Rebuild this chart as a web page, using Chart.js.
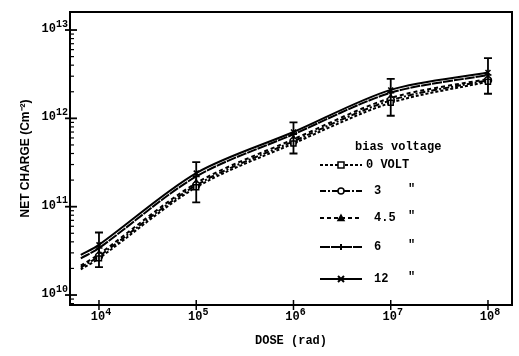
<!DOCTYPE html>
<html><head><meta charset="utf-8">
<script src="https://cdn.jsdelivr.net/npm/chart.js@4"></script>
<style>html,body{margin:0;padding:0;background:#fff}#wrap{width:519px;height:356px;position:relative}</style>
</head><body><div id="wrap"><canvas id="c" width="519" height="356"></canvas></div>
<script>
// ---- data ----
const doses   = [6.5e3, 1e4, 1e5, 1e6, 1e7, 1e8];
const v0      = [1.95e10, 2.6e10, 1.66e11, 5.2e11, 1.5e12, 2.6e12];
const v3      = [2.05e10, 2.75e10, 1.75e11, 5.5e11, 1.6e12, 2.7e12];
const v45     = [2.15e10, 2.9e10, 1.85e11, 5.8e11, 1.7e12, 2.8e12];
const v6      = [2.6e10, 3.4e10, 2.2e11, 6.6e11, 1.95e12, 3.1e12];
const v12     = [2.85e10, 3.7e10, 2.4e11, 7.0e11, 2.1e12, 3.3e12];
const errDoses = [1e4, 1e5, 1e6, 1e7, 1e8];
const errHigh  = [5.1e10, 3.2e11, 9.0e11, 2.8e12, 4.8e12];
const errLow   = [2.07e10, 1.12e11, 4.0e11, 1.07e12, 1.9e12];
const xTicks      = [1e4, 1e5, 1e6, 1e7, 1e8];
const xTickBase   = ['10', '10', '10', '10', '10'];
const xTickExp    = ['4', '5', '6', '7', '8'];
const yTicks      = [1e10, 1e11, 1e12, 1e13];
const yTickBase   = ['10', '10', '10', '10'];
const yTickExp    = ['10', '11', '12', '13'];
const seriesLabels = ['0 VOLT', '3', '4.5', '6', '12'];
const seriesValues = [v0, v3, v45, v6, v12];

// ---- styles ----
const styles = [
  {dash: [3, 2],        pt: 'rect',     fill: '#fff'},
  {dash: [6, 2, 2, 2],  pt: 'circle',   fill: '#fff'},
  {dash: [4, 3],        pt: 'triangle', fill: '#000'},
  {dash: [10, 1],       pt: 'cross',    fill: '#000'},
  {dash: [],            pt: 'crossRot', fill: '#000'}
];
const legendRows = [165, 191, 218, 247, 279];
const MONO = '"Liberation Mono", "DejaVu Sans Mono", monospace';

const datasets = seriesValues.map((vals, s) => ({
  label: seriesLabels[s],
  data: doses.map((d, i) => ({x: d, y: vals[i]})),
  borderColor: '#000',
  borderWidth: 2,
  borderDash: styles[s].dash,
  pointStyle: styles[s].pt,
  pointRadius: doses.map((d, i) => i === 0 ? 0 : 3.5),
  pointBorderWidth: 1.5,
  pointBorderColor: '#000',
  pointBackgroundColor: styles[s].fill,
  tension: 0.3,
  fill: false
}));

function drawMarker(ctx, style, x, y, r, fill) {
  ctx.save();
  ctx.setLineDash([]);
  ctx.lineWidth = 1.5;
  ctx.strokeStyle = '#000';
  ctx.fillStyle = fill;
  ctx.beginPath();
  if (style === 'rect') { ctx.rect(x - r, y - r, 2 * r, 2 * r); ctx.fill(); ctx.stroke(); }
  else if (style === 'circle') { ctx.arc(x, y, r, 0, Math.PI * 2); ctx.fill(); ctx.stroke(); }
  else if (style === 'triangle') { ctx.moveTo(x, y - r); ctx.lineTo(x + r, y + r * 0.8); ctx.lineTo(x - r, y + r * 0.8); ctx.closePath(); ctx.fill(); ctx.stroke(); }
  else if (style === 'cross') { ctx.moveTo(x - r, y); ctx.lineTo(x + r, y); ctx.moveTo(x, y - r); ctx.lineTo(x, y + r); ctx.lineWidth = 2; ctx.stroke(); }
  else if (style === 'crossRot') { ctx.moveTo(x - r, y - r); ctx.lineTo(x + r, y + r); ctx.moveTo(x + r, y - r); ctx.lineTo(x - r, y + r); ctx.lineWidth = 2; ctx.stroke(); }
  ctx.restore();
}

const BASE_FONT = 'bold 12px ' + MONO;
const EXP_FONT = 'bold 10px ' + MONO;
function powerLabel(ctx, base, exp, x, y, align) {
  ctx.font = BASE_FONT;
  const wb = ctx.measureText(base).width;
  ctx.font = EXP_FONT;
  const we = ctx.measureText(exp).width;
  const total = wb + we;
  const x0 = align === 'right' ? x - total : x - total / 2;
  ctx.textAlign = 'left';
  ctx.textBaseline = 'middle';
  ctx.font = BASE_FONT;
  ctx.fillText(base, x0, y);
  ctx.font = EXP_FONT;
  ctx.fillText(exp, x0 + wb, y - 5);
}

const framePlugin = {
  id: 'frame',
  afterDatasetsDraw(chart) {
    const {ctx, chartArea: a, scales: {x, y}} = chart;
    ctx.save();
    ctx.strokeStyle = '#000';
    ctx.fillStyle = '#000';
    // error bars
    ctx.lineWidth = 1.8;
    errDoses.forEach((d, i) => {
      const px = x.getPixelForValue(d);
      const yt = y.getPixelForValue(errHigh[i]);
      const yb = y.getPixelForValue(errLow[i]);
      ctx.beginPath();
      ctx.moveTo(px, yt); ctx.lineTo(px, yb);
      ctx.moveTo(px - 4, yt); ctx.lineTo(px + 4, yt);
      ctx.moveTo(px - 4, yb); ctx.lineTo(px + 4, yb);
      ctx.stroke();
    });
    // frame
    ctx.lineWidth = 2;
    ctx.strokeRect(a.left, a.top, a.right - a.left, a.bottom - a.top);
    // x ticks + labels
    ctx.lineWidth = 1.5;
    xTicks.forEach((v, i) => {
      const px = x.getPixelForValue(v);
      ctx.beginPath(); ctx.moveTo(px, a.bottom - 5); ctx.lineTo(px, a.bottom + 5); ctx.stroke();
      powerLabel(ctx, xTickBase[i], xTickExp[i], px + 2, a.bottom + 12, 'center');
    });
    // y ticks major and minor + labels
    for (let e = 9; e <= 13; e++) {
      for (let k = 1; k <= 9; k++) {
        const v = k * Math.pow(10, e);
        if (v < y.min || v > y.max) continue;
        const py = y.getPixelForValue(v);
        ctx.beginPath();
        if (k === 1) { ctx.lineWidth = 1.8; ctx.moveTo(a.left - 5, py); ctx.lineTo(a.left + 7, py); }
        else { ctx.lineWidth = 1.2; ctx.moveTo(a.left, py); ctx.lineTo(a.left + 4, py); }
        ctx.stroke();
      }
    }
    yTicks.forEach((v, i) => {
      const py = y.getPixelForValue(v);
      powerLabel(ctx, yTickBase[i], yTickExp[i], a.left - 2, py - 1, 'right');
    });
    // legend
    ctx.font = 'bold 12px ' + MONO;
    ctx.textBaseline = 'middle';
    ctx.textAlign = 'left';
    ctx.fillText('bias voltage', 355, 147);
    seriesLabels.forEach((lab, s) => {
      const ry = legendRows[s];
      ctx.save();
      ctx.lineWidth = 2;
      ctx.setLineDash(styles[s].dash);
      ctx.beginPath(); ctx.moveTo(320, ry); ctx.lineTo(362, ry); ctx.stroke();
      ctx.restore();
      drawMarker(ctx, styles[s].pt, 341, ry, 3, s < 2 ? '#fff' : '#000');
      ctx.font = 'bold 12px ' + MONO;
      ctx.fillText(lab, s === 0 ? 366 : 374, ry);
      if (s > 0) ctx.fillText('"', 408, ry - 2);
    });
    ctx.restore();
  }
};

new Chart(document.getElementById('c'), {
  type: 'line',
  data: {datasets},
  options: {
    responsive: false,
    animation: false,
    events: [],
    layout: {padding: {top: 12, right: 7, left: 0, bottom: 0}},
    plugins: {legend: {display: false}, tooltip: {enabled: false}},
    scales: {
      x: {
        type: 'logarithmic',
        bounds: 'data',
        min: Math.pow(10, 3.702),
        max: Math.pow(10, 8.247),
        afterBuildTicks: s => { s.ticks = xTicks.map(v => ({value: v})); },
        afterFit: s => { s.height = 51; },
        grid: {display: false, drawTicks: false},
        border: {display: false},
        ticks: {autoSkip: false, maxRotation: 0, padding: 4, color: '#000',
          font: {family: MONO, size: 12, weight: 'bold'}, callback: () => ''},
        title: {display: true, text: 'DOSE (rad)', color: '#000',
          font: {family: MONO, size: 12, weight: 'bold'}, padding: {top: 0, bottom: 8}}
      },
      y: {
        type: 'logarithmic',
        bounds: 'data',
        min: Math.pow(10, 9.887),
        max: Math.pow(10, 13.204),
        afterBuildTicks: s => { s.ticks = yTicks.map(v => ({value: v})); },
        afterFit: s => { s.width = 70; },
        grid: {display: false, drawTicks: false},
        border: {display: false},
        ticks: {autoSkip: false, padding: 3, color: '#000',
          font: {family: MONO, size: 12, weight: 'bold'}, callback: () => ''},
        title: {display: true, text: 'NET CHARGE (Cm⁻²)', color: '#000',
          font: {family: '"Liberation Sans", Arial, sans-serif', size: 12, weight: 'bold'},
          padding: {top: 18, bottom: 0}}
      }
    }
  },
  plugins: [framePlugin]
});
</script>
</body></html>
